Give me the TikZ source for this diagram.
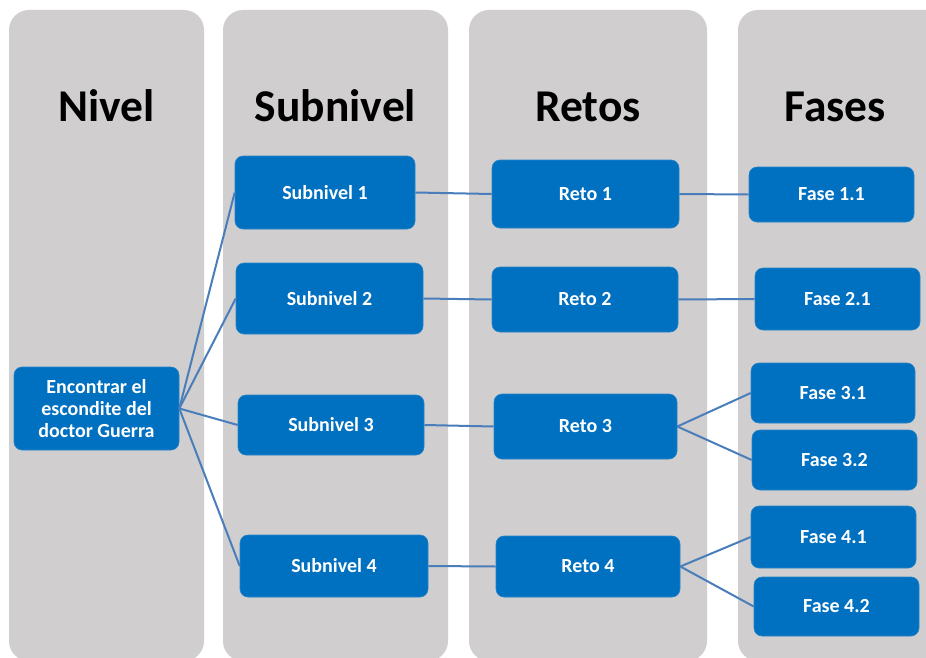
\documentclass[tikz,border=0pt]{standalone}
\usepackage{fontspec}
\setmainfont{Carlito}
\definecolor{colgray}{HTML}{D0CECE}
\definecolor{boxblue}{HTML}{0070C0}
\definecolor{lineblue}{RGB}{74,126,187}
\tikzset{
  column/.style={fill=colgray, draw=none, rounded corners=20pt},
  header/.style={font=\fontsize{45.5}{52}\selectfont\bfseries, text=black, anchor=base, inner sep=0pt},
  box/.style={fill=boxblue, draw=boxblue!85!white, line width=0.6pt, rounded corners=8pt, text=white,
    font=\fontsize{20}{22}\selectfont\bfseries, align=center, inner sep=0pt},
  link/.style={draw=lineblue, line width=2pt}
}
\begin{document}
\begin{tikzpicture}[x=1pt,y=-1pt]
\clip (0,0) rectangle (926,658);
\fill[white] (0,0) rectangle (926,658);
% columns
\fill[column] (9,10) rectangle (204,661);
\fill[column] (223,10) rectangle (448,661);
\fill[column] (469,10) rectangle (707,661);
\fill[column] (738,10) rectangle (960,661);
% headers
\node[header] (hN) at (106.5,122) {Nivel};
\node[header] (hS) at (335.5,122) {Subnivel};
\node[header] (hR) at (588,122) {Retos};
\node[header] (hF) at (835,122) {Fases};
% boxes
\node[box, minimum width=165pt, minimum height=83pt] (niv) at (96.5,408.5) {Encontrar el\\escondite del\\doctor Guerra};
\node[box, minimum width=180pt, minimum height=73pt] (s1) at (325,192.5) {Subnivel 1};
\node[box, minimum width=187pt, minimum height=71pt] (s2) at (329.5,298.5) {Subnivel 2};
\node[box, minimum width=186pt, minimum height=60pt] (s3) at (331,425) {Subnivel 3};
\node[box, minimum width=188pt, minimum height=62pt] (s4) at (334,566) {Subnivel 4};
\node[box, minimum width=187pt, minimum height=68pt] (r1) at (585.5,194) {Reto 1};
\node[box, minimum width=186pt, minimum height=65pt] (r2) at (585,299.5) {Reto 2};
\node[box, minimum width=183pt, minimum height=65pt] (r3) at (585.5,426.5) {Reto 3};
\node[box, minimum width=184pt, minimum height=61pt] (r4) at (588,566.5) {Reto 4};
\node[box, minimum width=165pt, minimum height=55pt] (f11) at (831.5,194.5) {Fase 1.1};
\node[box, minimum width=165pt, minimum height=62pt] (f21) at (837.5,299) {Fase 2.1};
\node[box, minimum width=164pt, minimum height=60pt] (f31) at (833,393) {Fase 3.1};
\node[box, minimum width=165pt, minimum height=60pt] (f32) at (834.5,460) {Fase 3.2};
\node[box, minimum width=165pt, minimum height=62pt] (f41) at (833.5,537) {Fase 4.1};
\node[box, minimum width=165pt, minimum height=59pt] (f42) at (836.5,606.5) {Fase 4.2};
% connectors
\foreach \s in {s1,s2,s3,s4} \draw[link] (niv.east) -- (\s.west);
\draw[link] (s1.east) -- (r1.west);
\draw[link] (s2.east) -- (r2.west);
\draw[link] (s3.east) -- (r3.west);
\draw[link] (s4.east) -- (r4.west);
\draw[link] (r1.east) -- (f11.west);
\draw[link] (r2.east) -- (f21.west);
\draw[link] (r3.east) -- (f31.west);
\draw[link] (r3.east) -- (f32.west);
\draw[link] (r4.east) -- (f41.west);
\draw[link] (r4.east) -- (f42.west);
\end{tikzpicture}
\end{document}
